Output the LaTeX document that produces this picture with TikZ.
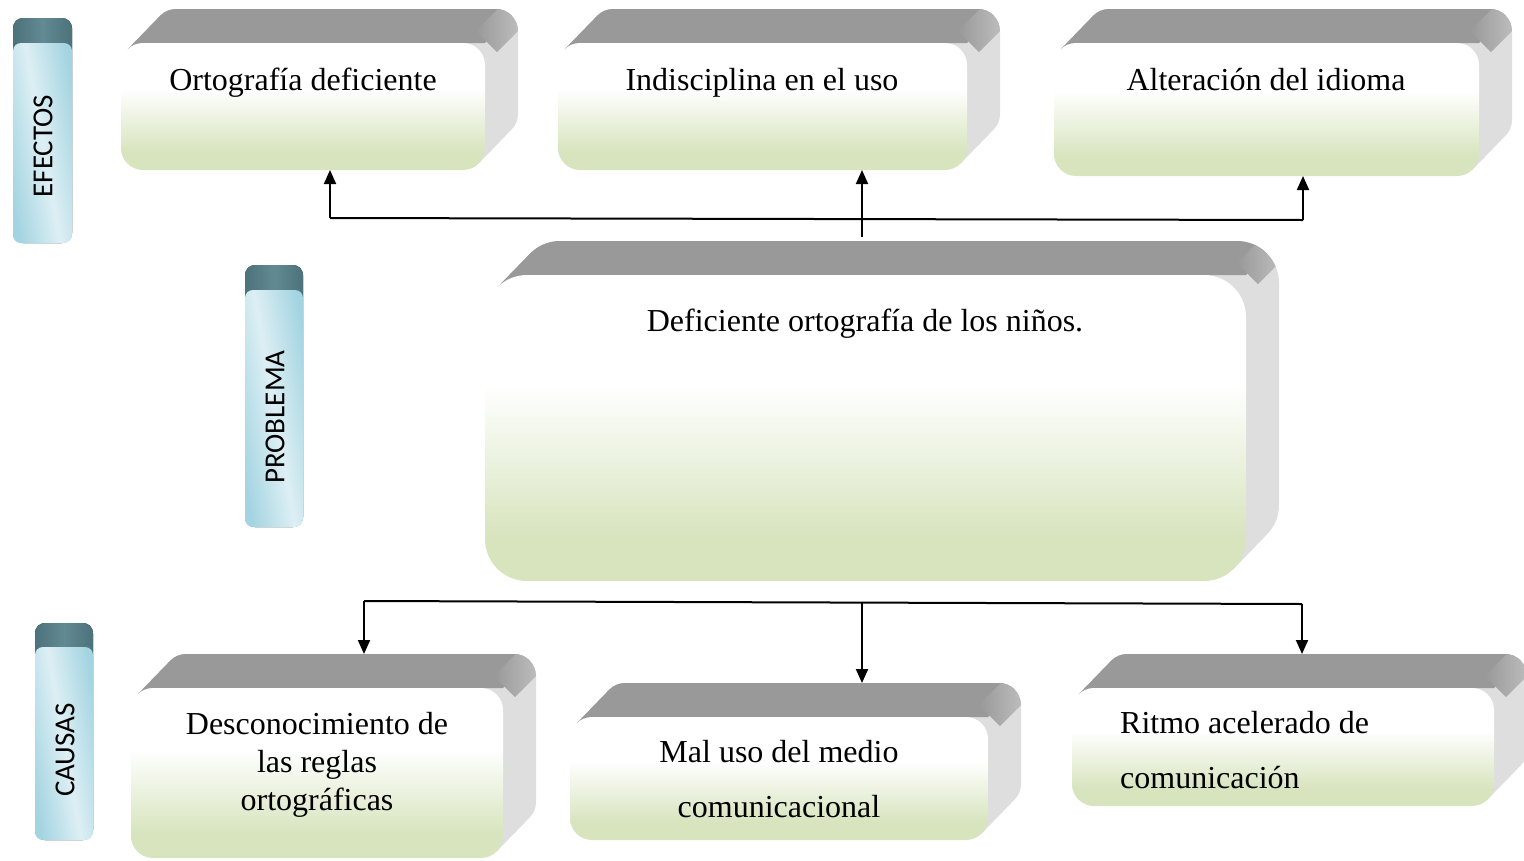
\documentclass[tikz,border=0pt]{standalone}
\usepackage{fontspec}
\setmainfont{Liberation Serif}
\newfontfamily\labfont{Carlito}
\usetikzlibrary{arrows.meta}
\definecolor{boxgreen}{HTML}{D7E4BD}
\definecolor{topgray}{HTML}{999999}
\definecolor{sidegray}{HTML}{DEDEDE}
\definecolor{capteal}{HTML}{628A93}
\definecolor{capdark}{HTML}{4C727B}
\definecolor{labblue}{HTML}{A3D4E1}
\definecolor{lablight}{HTML}{DDEFF4}
\pgfdeclareverticalshading{frontshade}{100bp}{color(0bp)=(boxgreen); color(32bp)=(boxgreen); color(57bp)=(white); color(100bp)=(white)}
\tikzset{
  frontface/.style={shade, shading=frontshade, inner sep=0pt, outer sep=0pt},
  boxtext/.style={inner sep=0pt, font=\fontsize{32}{38}\selectfont},
  labbody/.style={left color=labblue, right color=labblue, middle color=lablight, shading angle=100, rounded corners=8, inner sep=0pt, outer sep=0pt},
  labcap/.style={left color=capdark, right color=capdark, middle color=capteal, rounded corners=10},
  labtext/.style={inner sep=0pt, font=\labfont\fontsize{29}{34}\selectfont, rotate=90},
  conn/.style={line width=2pt},
  arr/.style={line width=2pt, -{Triangle[length=14pt,width=12pt]}},
}
% #1 radius, #2 name, #3 x1, #4 y1, #5 x2, #6 y2 (pixel coordinates, y downwards)
\newcommand\cubebox[6][22]{%
  \begin{scope}
    \clip ({(#3+#5)/2+33},#4-34) [rounded corners=#1] -- (#5+33,#4-34) -- (#5+33,#6-34) -- (#3+33,#6-34) -- (#3+33,#4-34) -- cycle
      [sharp corners] (#3+0.293*#1,#4+0.293*#1) -- (#3+33+0.293*#1,#4-34+0.293*#1) -- (#5+33-0.293*#1,#6-34-0.293*#1) -- (#5-0.293*#1,#6-0.293*#1) -- cycle;
    \fill[sidegray] (#3-10,#4-40) rectangle (#5+40,#6+5);
    \fill[topgray] (#3-50,#4+#1) -- (#3-50,#4-60) -- (#5+58,#4-60) -- (#5,#4) -- (#3+#1,#4) -- (#3+#1,#4+#1) -- cycle;
    \begin{scope}[shift={(#5,#4)}, rotate=-45]
      \shade[left color=topgray, right color=sidegray] (-15,-2) rectangle (15,-90);
    \end{scope}
  \end{scope}
  \node[frontface, rounded corners=#1, minimum width={#5-#3}, minimum height={#6-#4}] (#2) at ({(#3+#5)/2},{(#4+#6)/2}) {};
  \coordinate (#2-bt) at ({(#3+#5)/2+33},{#4-34});
}
\begin{document}
\begin{tikzpicture}[x=1pt,y=-1pt]
\useasboundingbox (0,0) rectangle (1524,860);
% side labels
\fill[labcap] (13,18) rectangle (72,243);
\node[labbody, minimum width=59, minimum height=200] (lab1) at (42.5,143) {};
\node[labtext] (lab1-t) at (43,146) {EFECTOS};
\fill[labcap] (245,265) rectangle (303,527);
\node[labbody, minimum width=58, minimum height=237] (lab2) at (274,408.5) {};
\node[labtext] (lab2-t) at (275,417) {PROBLEMA};
\fill[labcap] (35,623) rectangle (93,840);
\node[labbody, minimum width=58, minimum height=193] (lab3) at (64,743.5) {};
\node[labtext] (lab3-t) at (65,750) {CAUSAS};
% boxes
\cubebox{e1}{121}{43}{485}{170}
\cubebox{e2}{558}{43}{967}{170}
\cubebox{e3}{1054}{43}{1479}{176}
\cubebox[42]{prob}{485}{275}{1246}{581}
\cubebox{c1}{131}{688}{503}{858}
\cubebox{c2}{570}{717}{988}{840}
\cubebox{c3}{1072}{688}{1494}{806}
% texts
\node[boxtext, anchor=base] (e1-t) at (303,90) {Ortografía deficiente};
\node[boxtext, anchor=base] (e2-t) at (762,90) {Indisciplina en el uso};
\node[boxtext, anchor=base] (e3-t) at (1266,90) {Alteración del idioma};
\node[boxtext, anchor=base] (prob-t) at (865,331) {Deficiente ortografía de los niños.};
\node[boxtext, anchor=base, align=center] (c1-t) at (317,810) {Desconocimiento de\\las reglas\\ortográficas};
\node[boxtext, anchor=base, align=center, font=\fontsize{32}{55}\selectfont] (c2-t) at (779,817) {Mal uso del medio\\comunicacional};
\node[boxtext, anchor=base west, align=left, font=\fontsize{32}{55}\selectfont] (c3-t) at (1120,788) {Ritmo acelerado de\\comunicación};
% connectors
\coordinate (tj) at (862,219);
\coordinate (tl) at (330,218);
\coordinate (tr) at (1303,220);
\draw[conn] (tl) -- (tr);
\draw[arr, shorten <=4pt] (tj |- prob-bt) -- (tj |- e2.south);
\draw[arr] (tl) -- (tl |- e1.south);
\draw[arr] (tr) -- (tr |- e3.south);
\coordinate (bl) at (364,601);
\coordinate (bm) at (862,602);
\coordinate (br) at (1302,604);
\draw[conn] (bl) -- (br);
\draw[arr] (bm) -- (bm |- c2-bt);
\draw[arr] (bl) -- (bl |- c1-bt);
\draw[arr] (br) -- (br |- c3-bt);
\end{tikzpicture}
\end{document}
